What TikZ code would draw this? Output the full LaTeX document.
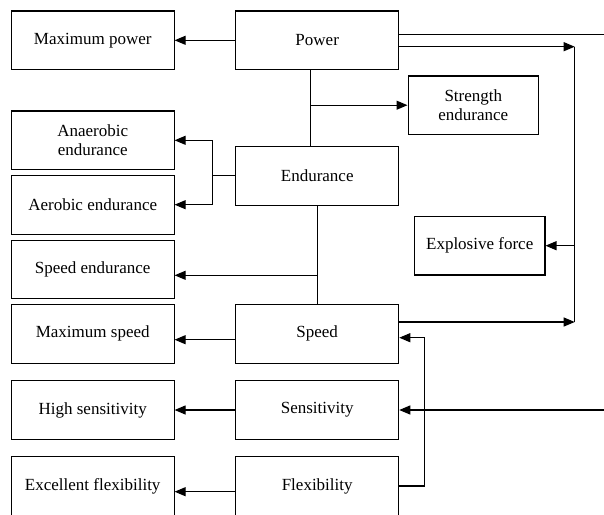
\documentclass[tikz,border=0pt]{standalone}
\usepackage{fontspec}
\setmainfont{Liberation Serif}
\usetikzlibrary{arrows.meta,calc}
\begin{document}
\begin{tikzpicture}[x=1pt,y=-1pt,
  box/.style={draw=black,line width=1.1pt,rectangle,inner sep=0pt,align=center,
    font=\fontsize{17}{18.5}\selectfont},
  lbox/.style={box,minimum width=162.7pt,minimum height=58.7pt},
  mbox/.style={box,minimum width=163pt,minimum height=58.7pt},
  rbox/.style={box,minimum width=130.5pt,minimum height=58.5pt},
  conn/.style={line width=1.1pt,draw=black},
  arr/.style={conn,-{Triangle[length=11pt,width=9pt]}}]
\fill[white] (0,0) rectangle (604,514);
\useasboundingbox (0,0) rectangle (604,514);
% left column
\node[lbox] (maxpower) at (92.7,40.3) {Maximum power};
\node[lbox] (anaerobic) at (92.7,140.3) {Anaerobic\\endurance};
\node[lbox] (aerobic) at (92.7,204.7) {Aerobic endurance};
\node[lbox] (speedend) at (92.7,269.5) {Speed endurance};
\node[lbox] (maxspeed) at (92.7,333.8) {Maximum speed};
\node[lbox] (highsens) at (92.7,410) {High sensitivity};
\node[lbox] (exflex) at (92.7,486) {Excellent flexibility};
% middle column
\node[mbox] (power) at (317.2,40.3) {Power};
\node[mbox] (endurance) at (317.2,175.7) {Endurance};
\node[mbox] (speed) at (317.2,333.8) {Speed};
\node[mbox] (sens) at (317.2,410) {Sensitivity};
\node[mbox] (flex) at (317.2,486) {Flexibility};
% right column
\node[rbox] (strength) at (473.3,105.2) {Strength\\endurance};
\node[rbox] (explosive) at (479.7,245.7) {Explosive force};
% helper coordinates
\coordinate (pv) at (310.3,69.7);
\coordinate (ebr) at (212.7,175.7);
\coordinate (sebr) at (317.2,275.3);
\coordinate (rv) at (574.7,46.7);
\coordinate (rvb) at (574.7,322);
\coordinate (redge1) at (604,34.7);
\coordinate (redge2) at (604,410);
\coordinate (fv) at (424.7,486);
\coordinate (fvt) at (424.7,337.7);
% connectors
\draw[arr] (power.west) -- (maxpower.east);
\draw[conn] (pv) -- (pv |- endurance.north);
\draw[arr] (pv |- strength.west) -- (strength.west);
\draw[conn] (endurance.west) -- (ebr);
\draw[arr] (ebr) |- (anaerobic.east);
\draw[arr] (ebr) |- (aerobic.east);
\draw[conn] (endurance.south) -- (speed.north);
\draw[arr] (sebr) -- (sebr -| speedend.east);
\draw[arr] ([yshift=-5.9pt]speed.west) -- ([yshift=-5.9pt]maxspeed.east);
\draw[arr] (sens.west) -- (highsens.east);
\draw[arr] ([yshift=-5.7pt]flex.west) -- ([yshift=-5.7pt]exflex.east);
\draw[conn] (redge1 -| power.east) -- (redge1);
\draw[arr] (rv -| power.east) -- (rv);
\draw[conn] (rv) -- (rvb);
\draw[arr] (rv |- explosive.east) -- (explosive.east);
\draw[arr] (rvb -| speed.east) -- (rvb);
\draw[arr] (redge2) -- (sens.east);
\draw[arr] (flex.east) -- (fv) -- (fvt) -- (fvt -| speed.east);
\end{tikzpicture}
\end{document}
